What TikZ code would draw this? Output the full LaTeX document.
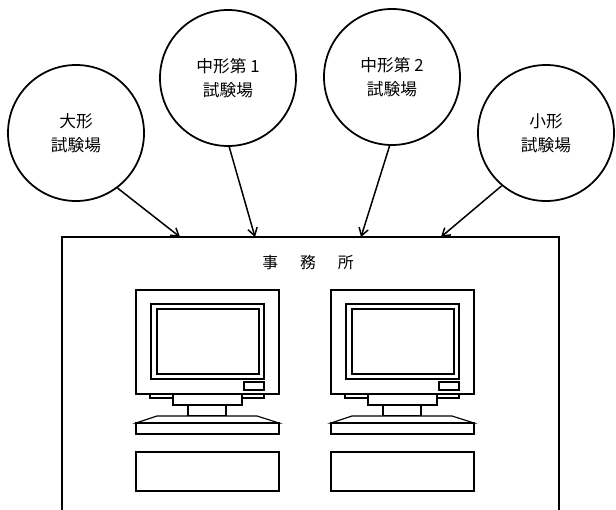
\documentclass[tikz,border=0pt]{standalone}
\usepackage{fontspec}
\newfontfamily\jp{Noto Sans CJK JP}
\usetikzlibrary{arrows.meta}

\begin{document}
\begin{tikzpicture}[x=0.04cm, y=-0.04cm,
    site/.style={draw, circle, line width=2pt, minimum size=5.44cm, inner sep=0pt,
      align=center, font=\jp\fontsize{19}{27}\selectfont},
    link/.style={-{Straight Barb[length=3mm,width=3.8mm]}, line width=1.7pt},
    part/.style={draw, line width=1.3pt, fill=white}]
  \useasboundingbox (0,0) rectangle (616,509);
  \clip (0,0) rectangle (616,509);
  % Test sites
  \node[site] (large) at (76,133) {大形\\試験場};
  \node[site] (mid1)  at (228,78) {中形第 1\\試験場};
  \node[site] (mid2)  at (392,77) {中形第 2\\試験場};
  \node[site] (small) at (546,133) {小形\\試験場};
  % Office (runs off the bottom edge)
  \node[draw, line width=1.4pt, minimum width=19.88cm, minimum height=12.12cm,
    inner sep=0pt] (office) at (310.5,388.5) {};
  \node[font=\jp\fontsize{18}{18}\selectfont] (title) at (308,263)
    {事\hspace{25pt}務\hspace{25pt}所};
  % Lines into the office
  \coordinate (in1) at (180,237);
  \coordinate (in2) at (255,237);
  \coordinate (in3) at (361,237);
  \coordinate (in4) at (441,237);
  \draw[link] (large.-53) -- (in1);
  \draw[link] (mid1.-89)  -- (in2);
  \draw[link] (mid2.-92)  -- (in3);
  \draw[link] (small.-130) -- (in4);
  % Two terminals
  \foreach \dx in {0,195} {
    \begin{scope}[shift={(136+\dx,290)}]
      % monitor
      \draw[part] (0,0) rectangle (143,104);
      \draw[part] (15,14) rectangle (128,89);
      \draw[part] (21,19) rectangle (123,84);
      \draw[part] (108,92) rectangle (128,100);
      % stand
      \draw[part] (14,104) rectangle (128,108);
      \draw[part] (37,104) rectangle (106,115);
      \draw[part] (52,115) rectangle (90,126);
      % keyboard
      \draw[part] (21,126) -- (121,126) -- (143,133) -- (0,133) -- cycle;
      \draw[part] (0,133) rectangle (143,144);
      % drive unit
      \draw[part] (0,162) rectangle (143,201);
    \end{scope}
  }
\end{tikzpicture}
\end{document}
